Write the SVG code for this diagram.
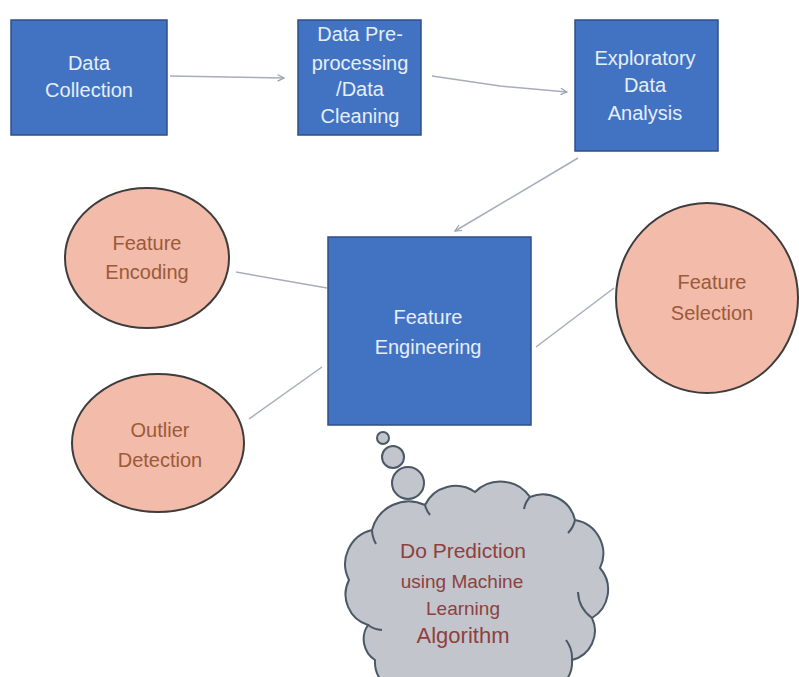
<svg xmlns="http://www.w3.org/2000/svg" width="799" height="677" viewBox="0 0 799 677">
<style>
.box{fill:#4273c3;stroke:#2f4f86;stroke-width:1.5}
.bt{font-family:"Liberation Sans",Arial,sans-serif;font-size:20px;fill:#e6eef8;text-anchor:middle;dominant-baseline:middle}
.ell{fill:#f3bba9;stroke:#3d3d3d;stroke-width:2}
.et{font-family:"Liberation Sans",Arial,sans-serif;font-size:20px;fill:#9b5a3a;text-anchor:middle;dominant-baseline:middle}
.cl{fill:#c2c5cb;stroke:#4b5866;stroke-width:2}
.ct{font-family:"Liberation Sans",Arial,sans-serif;fill:#8e4040;text-anchor:middle;dominant-baseline:middle}
.con{stroke:#a7adb8;stroke-width:1.5;fill:none}
</style>
<defs>
<marker id="arr" viewBox="0 0 10 10" refX="9" refY="5" markerWidth="8" markerHeight="8" orient="auto" markerUnits="userSpaceOnUse">
<path d="M1,1 L9,5 L1,9" fill="none" stroke="#9aa1ad" stroke-width="1.5"/>
</marker>
</defs>
<rect width="799" height="677" fill="#ffffff"/>
<g id="connectors">
<line class="con" x1="170" y1="76" x2="284" y2="78" marker-end="url(#arr)"/>
<path class="con" d="M432,76 L500,86 L567,92" marker-end="url(#arr)"/>
<line class="con" x1="578" y1="158" x2="455" y2="231" marker-end="url(#arr)"/>
<line class="con" x1="236" y1="272" x2="327" y2="288"/>
<line class="con" x1="249" y1="419" x2="322" y2="367"/>
<line class="con" x1="536" y1="347" x2="614" y2="288"/>
</g>
<g id="data-collection">
<rect class="box" x="11" y="20" width="156" height="115"/>
<text class="bt" x="89" y="65">Data</text>
<text class="bt" x="89" y="92">Collection</text>
</g>
<g id="data-preprocessing">
<rect class="box" x="298" y="20" width="123" height="115"/>
<text class="bt" x="360" y="36">Data Pre-</text>
<text class="bt" x="360" y="65">processing</text>
<text class="bt" x="360" y="91">/Data</text>
<text class="bt" x="360" y="118">Cleaning</text>
</g>
<g id="eda">
<rect class="box" x="575" y="20" width="143" height="131"/>
<text class="bt" x="645" y="60">Exploratory</text>
<text class="bt" x="645" y="87">Data</text>
<text class="bt" x="645" y="115">Analysis</text>
</g>
<g id="feature-engineering">
<rect class="box" x="328" y="237" width="203" height="188"/>
<text class="bt" x="428" y="319">Feature</text>
<text class="bt" x="428" y="349">Engineering</text>
</g>
<g id="feature-encoding">
<ellipse class="ell" cx="147" cy="258" rx="82" ry="70"/>
<text class="et" x="147" y="245">Feature</text>
<text class="et" x="147" y="274">Encoding</text>
</g>
<g id="outlier-detection">
<ellipse class="ell" cx="158" cy="443" rx="86" ry="69"/>
<text class="et" x="160" y="432">Outlier</text>
<text class="et" x="160" y="462">Detection</text>
</g>
<g id="feature-selection">
<ellipse class="ell" cx="707" cy="298" rx="91" ry="95"/>
<text class="et" x="712" y="284">Feature</text>
<text class="et" x="712" y="315">Selection</text>
</g>
<g id="prediction-cloud">
<circle class="cl" cx="383" cy="438" r="6"/>
<circle class="cl" cx="393" cy="457" r="11"/>
<circle class="cl" cx="408" cy="483" r="16"/>
<path class="cl" d="M368,625 A32,32 0 0 1 349,580 A35,35 0 0 1 372,530 A38,38 0 0 1 425,505 A34,34 0 0 1 475,492 A36,36 0 0 1 530,497 A33,33 0 0 1 575,520 A34,34 0 0 1 600,568 A33,33 0 0 1 592,618 A30,30 0 0 1 572,660 A30,30 0 0 1 540,692 L405,692 A30,30 0 0 1 375,660 A25,25 0 0 1 368,625 Z"/>
<path d="M368,625 A26,26 0 0 0 382,630 M372,530 A30,30 0 0 0 376,544 M425,505 A24,24 0 0 0 430,515 M530,497 A24,24 0 0 0 524,509 M575,520 A26,26 0 0 1 568,533 M592,618 A34,34 0 0 1 578,592 M572,660 A30,30 0 0 0 566,640" fill="none" stroke="#4b5866" stroke-width="2"/>
<text class="ct" x="463" y="552" font-size="21">Do Prediction</text>
<text class="ct" x="462" y="583" font-size="19">using Machine</text>
<text class="ct" x="463" y="610" font-size="19">Learning</text>
<text class="ct" x="463" y="637" font-size="22" fill="#6e3b3b">Algorithm</text>
</g>
</svg>
